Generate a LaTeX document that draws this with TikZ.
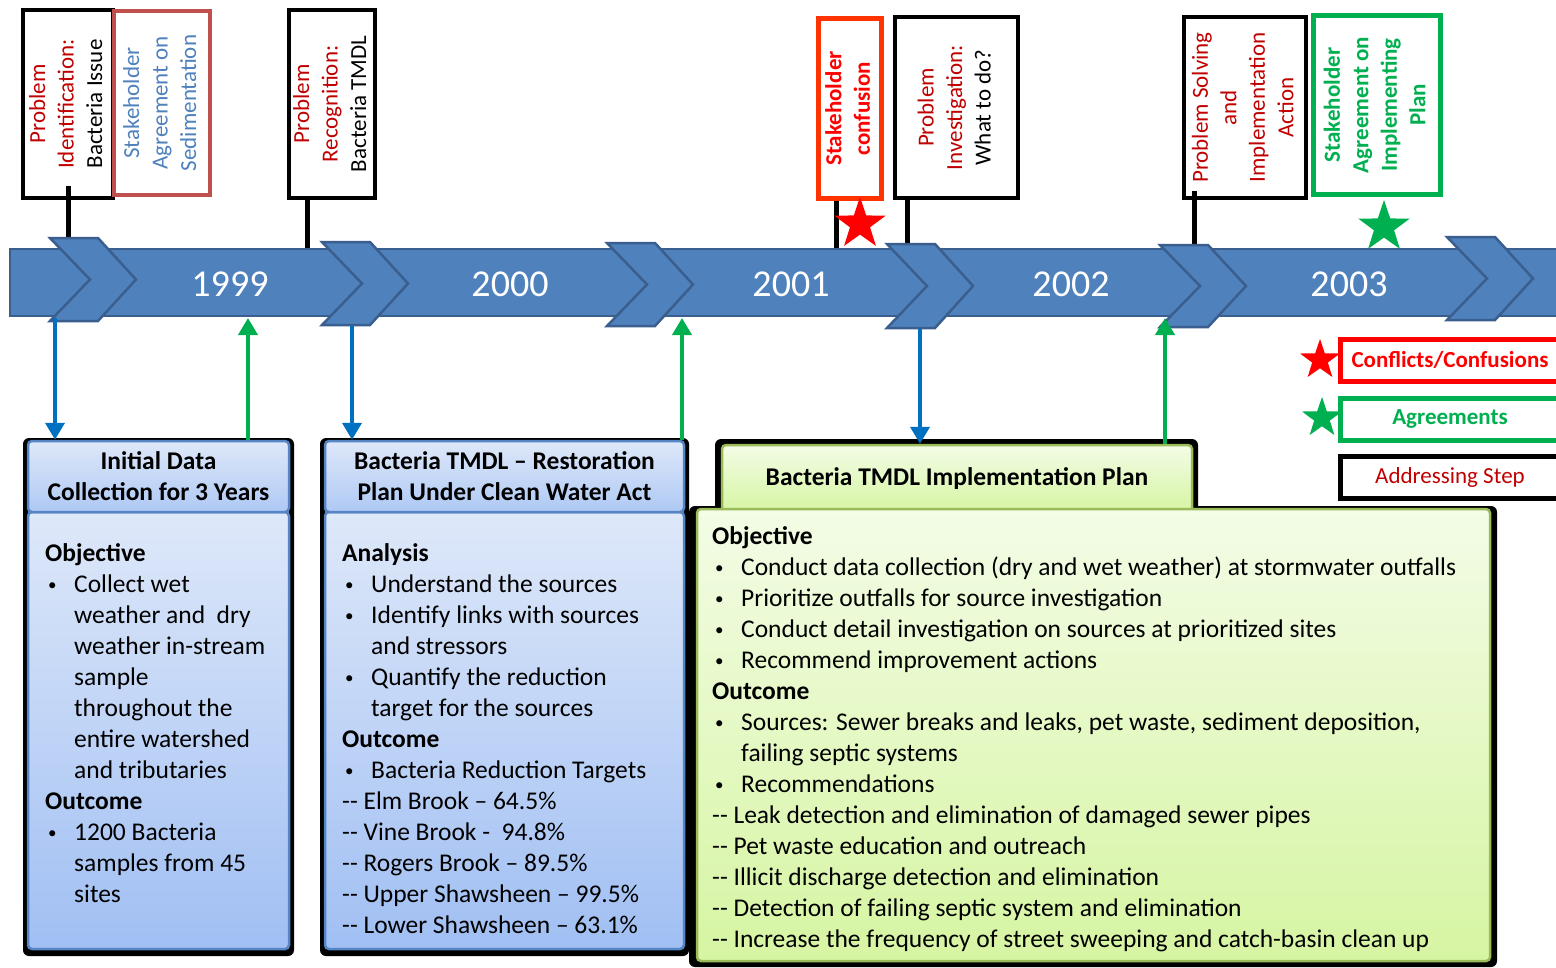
\documentclass[tikz,border=0pt]{standalone}
\usepackage{fontspec}
\setmainfont{Carlito}
\usepackage{graphicx}
\usetikzlibrary{calc,shapes.geometric,arrows.meta}

\definecolor{bandblue}{HTML}{4F81BD}
\definecolor{bandedge}{HTML}{3A5F8E}
\definecolor{arrowblue}{HTML}{0070C0}
\definecolor{agreegreen}{HTML}{00B050}
\definecolor{darkred}{HTML}{C00000}
\definecolor{brickred}{HTML}{C0504D}
\definecolor{confred}{HTML}{FF3300}
\definecolor{labelblue}{HTML}{4F81BD}
\definecolor{boxblue}{HTML}{5585C5}
\definecolor{paleblue}{HTML}{DEE8F9}
\definecolor{midblue}{HTML}{A0BFF3}
\definecolor{palegreen}{HTML}{F3FCE6}
\definecolor{limegreen}{HTML}{D6F5A2}
\definecolor{olivegreen}{HTML}{9BBB59}

% rotated multi-line label for the milestone tags
\newcommand\vlabel[1]{\rotatebox{90}{\fontsize{23}{28.5}\selectfont\begin{tabular}{@{}c@{}}#1\end{tabular}}}
% body text helpers
\newcommand\smallbullet{\raisebox{2pt}{\fontsize{17}{17}\selectfont\textbullet}}
\newcommand\itemline[1]{\makebox[29pt][l]{\hspace{3pt}\smallbullet}#1}
\newcommand\contline[1]{\hspace*{29pt}#1}
\newcommand\twohyph{\mbox{-}\mbox{-}}
\newcommand\bodytext[2]{\parbox[t]{#1}{\fontsize{25.5}{31}\selectfont\raggedright #2}}

\begin{document}
\begin{tikzpicture}[x=1pt,y=-1pt,
  every node/.style={inner sep=0pt},
  tagbox/.style={draw=black, line width=4pt, fill=white},
  stem/.style={draw=black, line width=5pt},
  chev/.style={fill=bandblue, draw=bandedge, line width=2.5pt, line join=miter},
  yearlabel/.style={text=white, font=\fontsize{38}{38}\selectfont},
  redstar/.style={star, star points=5, star point ratio=2.55, fill=red},
  greenstar/.style={star, star points=5, star point ratio=2.55, fill=agreegreen},
  bluehead/.style={draw=boxblue, line width=2.5pt, rounded corners=4pt, top color=paleblue, bottom color=midblue!85!white, align=center, font=\fontsize{25.5}{31}\selectfont\bfseries},
  bluebody/.style={draw=boxblue, line width=2.5pt, rounded corners=4pt, top color=paleblue, bottom color=midblue},
  greenhead/.style={draw=olivegreen, line width=2.5pt, rounded corners=4pt, top color=palegreen, bottom color=limegreen, align=center, font=\fontsize{25.5}{31}\selectfont\bfseries},
  greenbody/.style={draw=olivegreen, line width=2.5pt, rounded corners=4pt, top color=palegreen, bottom color=limegreen},
  shadowbox/.style={fill=black, rounded corners=6pt},
  downarrow/.style={draw=arrowblue, line width=4pt, -{Triangle[width=19pt,length=17pt]}},
  uparrow/.style={draw=agreegreen, line width=4pt, -{Triangle[width=19pt,length=17pt]}},
  legbox/.style={fill=white, line width=5pt, minimum width=220pt, minimum height=42pt, font=\fontsize{23}{23}\selectfont}
]
\useasboundingbox (0,0) rectangle (1556,967);
\clip (0,0) rectangle (1556,967);
\fill[white] (0,0) rectangle (1556,967);

% ---------- milestone tags above the timeline ----------
\node[tagbox, minimum width=90pt, minimum height=188pt] (pA) at (68,104)
  {\vlabel{{\color{darkred}Problem}\\{\color{darkred}Identification:}\\Bacteria Issue}};
\node[tagbox, draw=brickred, line width=3.5pt, minimum width=96pt, minimum height=184pt] (pB) at (162,103)
  {\vlabel{{\color{labelblue}Stakeholder}\\{\color{labelblue}Agreement on}\\{\color{labelblue}Sedimentation}}};
\node[tagbox, minimum width=86pt, minimum height=188pt] (pC) at (332,104)
  {\vlabel{{\color{darkred}Problem}\\{\color{darkred}Recognition:}\\Bacteria TMDL}};
\node[tagbox, draw=confred, line width=5pt, minimum width=63pt, minimum height=180pt] (pD) at (850,108.5)
  {\vlabel{\bfseries\color{red}Stakeholder\\\bfseries\color{red}confusion}};
\node[tagbox, minimum width=123pt, minimum height=181pt] (pE) at (956.5,107.5)
  {\vlabel{{\color{darkred}Problem}\\{\color{darkred}Investigation:}\\What to do?}};
\node[tagbox, minimum width=122pt, minimum height=181pt] (pF) at (1245,107.5)
  {\vlabel{{\color{darkred}Problem Solving}\\{\color{darkred}and}\\{\color{darkred}Implementation}\\{\color{darkred}Action}}};
\node[tagbox, draw=agreegreen, line width=5pt, minimum width=127pt, minimum height=179pt] (pG) at (1377,105)
  {\vlabel{\bfseries\color{agreegreen}Stakeholder\\\bfseries\color{agreegreen}Agreement on\\\bfseries\color{agreegreen}Implementing\\\bfseries\color{agreegreen}Plan}};

% stems from the tags down to the timeline
\coordinate (eA) at (68,262);
\coordinate (eC) at (307,262);
\coordinate (eD) at (836,262);
\coordinate (eE) at (907,262);
\coordinate (eF) at (1194,262);
\draw[stem] ($(pA.south)+(0,-14)$) -- (eA);
\draw[stem] (eC |- pC.south) -- (eC);
\draw[stem] (eD |- pD.south) -- (eD);
\draw[stem] (eE |- pE.south) -- (eE);
\draw[stem] ($(eF |- pF.south)+(0,-9)$) -- (eF);

% stars on the timeline
\node[redstar, minimum size=54pt] (sC) at (860,224) {};
\node[greenstar, minimum size=54pt] (sA) at (1384,227) {};

% ---------- timeline band ----------
\filldraw[fill=bandblue, draw=bandedge, line width=2.5pt] (10,249) rectangle (1575,316);
\foreach \x/\t/\b in {50/238/321, 322/242/325, 607/243/326, 887/244/328, 1160/245/327, 1447/237/320}{
  \filldraw[chev] (\x,\t) -- (\x+48,\t) -- (\x+86,{(\t+\b)/2}) -- (\x+48,\b) -- (\x,\b) -- (\x+40,{(\t+\b)/2}) -- cycle;
}
\node[yearlabel] (y99) at (230,284) {1999};
\node[yearlabel] (y00) at (510,284) {2000};
\node[yearlabel] (y01) at (791,284) {2001};
\node[yearlabel] (y02) at (1071,284) {2002};
\node[yearlabel] (y03) at (1349,284) {2003};

% ---------- phase boxes ----------
% initial data collection
\fill[shadowbox] (23,438) rectangle (294,956);
\node[bluebody, minimum width=261pt, minimum height=437pt] (b1) at (158.5,730.5) {};
\node[bluehead, minimum width=261pt, minimum height=71pt] (h1) at (158.5,476.5)
  {Initial Data\\Collection for 3 Years};
\node[anchor=base west] (x1) at (45,561) {\bodytext{240pt}{%
  \textbf{Objective}\\
  \itemline{Collect wet}\\
  \contline{weather and\ \ dry}\\
  \contline{weather in-stream}\\
  \contline{sample}\\
  \contline{throughout the}\\
  \contline{entire watershed}\\
  \contline{and tributaries}\\
  \textbf{Outcome}\\
  \itemline{1200 Bacteria}\\
  \contline{samples from 45}\\
  \contline{sites}}};

% TMDL restoration plan
\fill[shadowbox] (320,438) rectangle (689,956);
\node[bluebody, minimum width=359pt, minimum height=437pt] (b2) at (504.5,730.5) {};
\node[bluehead, minimum width=359pt, minimum height=71pt] (h2) at (504.5,476.5)
  {Bacteria TMDL – Restoration\\Plan Under Clean Water Act};
\node[anchor=base west] (x2) at (342,561) {\bodytext{340pt}{%
  \textbf{Analysis}\\
  \itemline{Understand the sources}\\
  \itemline{Identify links with sources}\\
  \contline{and stressors}\\
  \itemline{Quantify the reduction}\\
  \contline{target for the sources}\\
  \textbf{Outcome}\\
  \itemline{Bacteria Reduction Targets}\\
  \twohyph{} Elm Brook – 64.5\%\\
  \twohyph{} Vine Brook -\ \ 94.8\%\\
  \twohyph{} Rogers Brook – 89.5\%\\
  \twohyph{} Upper Shawsheen – 99.5\%\\
  \twohyph{} Lower Shawsheen – 63.1\%}};

% implementation plan
\fill[shadowbox] (715,439) rectangle (1198,520);
\fill[shadowbox] (689,506) rectangle (1497,967);
\node[greenhead, minimum width=470pt, minimum height=67pt] (h3) at (957,478.5)
  {Bacteria TMDL Implementation Plan};
\node[greenbody, minimum width=793pt, minimum height=452pt] (b3) at (1093.5,735) {};
\node[anchor=base west] (x3) at (712,544) {\bodytext{800pt}{%
  \textbf{Objective}\\
  \itemline{Conduct data collection (dry and wet weather) at stormwater outfalls}\\
  \itemline{Prioritize outfalls for source investigation}\\
  \itemline{Conduct detail investigation on sources at prioritized sites}\\
  \itemline{Recommend improvement actions}\\
  \textbf{Outcome}\\
  \itemline{Sources: Sewer breaks and leaks, pet waste, sediment deposition,}\\
  \contline{failing septic systems}\\
  \itemline{Recommendations}\\
  \twohyph{} Leak detection and elimination of damaged sewer pipes\\
  \twohyph{} Pet waste education and outreach\\
  \twohyph{} Illicit discharge detection and elimination\\
  \twohyph{} Detection of failing septic system and elimination\\
  \twohyph{} Increase the frequency of street sweeping and catch-basin clean up}};

% ---------- arrows between timeline and boxes ----------
\coordinate (t1) at (55,318);
\coordinate (t2) at (248,318);
\coordinate (t3) at (352,326);
\coordinate (t4) at (682,318);
\coordinate (t5) at (920,329);
\coordinate (t6) at (1165,318);
\draw[downarrow] (t1) -- (t1 |- h1.north);
\draw[uparrow] (t2 |- h1.north) -- (t2);
\draw[downarrow] (t3) -- (t3 |- h2.north);
\draw[uparrow] (t4 |- h2.north) -- (t4);
\draw[downarrow] (t5) -- (t5 |- h3.north);
\draw[uparrow] (t6 |- h3.north) -- (t6);

% ---------- legend ----------
\node[redstar, minimum size=42pt] (ls1) at (1320,360) {};
\node[greenstar, minimum size=42pt] (ls2) at (1322,418) {};
\node[legbox, draw=red, text=red, font=\fontsize{23}{23}\selectfont\bfseries] (lg1) at (1450,360) {Conflicts/Confusions};
\node[legbox, draw=agreegreen, text=agreegreen, font=\fontsize{23}{23}\selectfont\bfseries] (lg2) at (1450,419) {Agreements};
\node[legbox, draw=black, text=darkred] (lg3) at (1450,477) {Addressing Step};
\end{tikzpicture}
\end{document}
